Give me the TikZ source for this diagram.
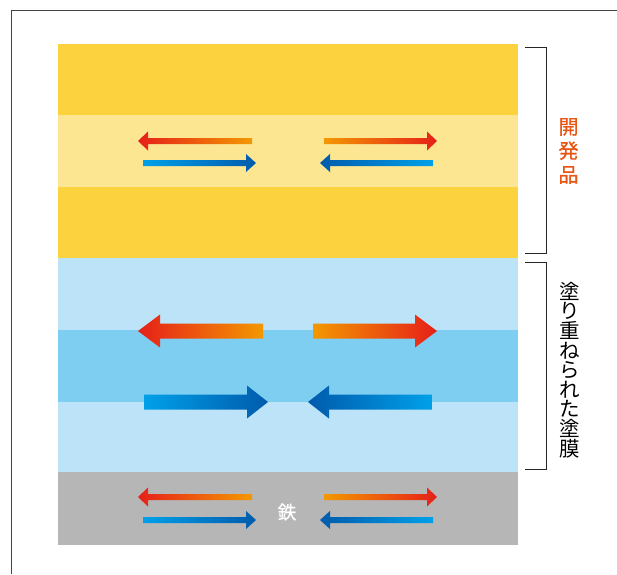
\documentclass[tikz,border=0pt]{standalone}
\usepackage{fontspec}
\newfontfamily\cjk{Noto Sans CJK JP}
\newfontfamily\cjkm{Noto Sans CJK JP}[FakeBold=0.6]
\definecolor{ydark}{HTML}{FDD23F}
\definecolor{ylight}{HTML}{FDE692}
\definecolor{blight}{HTML}{BCE3F7}
\definecolor{bmid}{HTML}{7ECEF2}
\definecolor{steel}{HTML}{B5B6B5}
\definecolor{ared}{HTML}{E61F19}
\definecolor{aorange}{HTML}{F39800}
\definecolor{ablue}{HTML}{005BAC}
\definecolor{acyan}{HTML}{00A0E9}
\definecolor{labelred}{HTML}{E95513}
\definecolor{framegray}{HTML}{444444}
\newcommand\grarrow[8]{%
  \pgfmathsetmacro\arrHB{#2>#1 ? #2-#6 : #2+#6}%
  \ifdim #2pt>#1pt \def\arrL{#7}\def\arrR{#8}\else \def\arrL{#8}\def\arrR{#7}\fi
  \shade[left color=\arrL, right color=\arrR]
    (#1,#3-#4) -- (\arrHB,#3-#4) -- (\arrHB,#3-#5) -- (#2,#3)
    -- (\arrHB,#3+#5) -- (\arrHB,#3+#4) -- (#1,#3+#4) -- cycle;}
\begin{document}
\begin{tikzpicture}[x=1pt,y=-1pt,
  bracket/.style={draw=black!85, line width=1pt},
  vlabel/.style={align=center, inner sep=0pt}]
\useasboundingbox (0,0) rectangle (617,574);
\fill[white] (0,0) rectangle (617,574);
% frame
\draw[framegray, line width=1pt] (11,574) -- (11,10) -- (617,10);
% layers
\fill[ydark]  (58,44)  rectangle (518,115);
\fill[ylight] (58,115) rectangle (518,187);
\fill[ydark]  (58,187) rectangle (518,258);
\fill[blight] (58,258) rectangle (518,330);
\fill[bmid]   (58,330) rectangle (518,402);
\fill[blight] (58,402) rectangle (518,472);
\fill[steel]  (58,472) rectangle (518,545);
% thin arrows (top)
\grarrow{252}{138}{141}{3}{9.5}{10}{aorange}{ared}
\grarrow{324}{437}{141}{3}{9.5}{10}{aorange}{ared}
\grarrow{143}{256}{163}{3}{9}{10}{acyan}{ablue}
\grarrow{433}{320}{163}{3}{9}{10}{acyan}{ablue}
% thick arrows
\grarrow{263}{138}{331}{7.5}{16.5}{22}{aorange}{ared}
\grarrow{313}{437}{331}{7.5}{16.5}{22}{aorange}{ared}
\grarrow{144}{268}{402}{7.5}{16.5}{21}{acyan}{ablue}
\grarrow{432}{308}{402}{7.5}{16.5}{21}{acyan}{ablue}
% thin arrows (steel)
\grarrow{252}{138}{497}{3}{9.5}{10}{aorange}{ared}
\grarrow{324}{437}{497}{3}{9.5}{10}{aorange}{ared}
\grarrow{143}{256}{520}{3}{9}{10}{acyan}{ablue}
\grarrow{433}{320}{520}{3}{9}{10}{acyan}{ablue}
\node[font=\cjkm\fontsize{18.5}{18.5}\selectfont, text=white, inner sep=0pt] (iron) at (287,512) {鉄};
% brackets
\draw[bracket] (525,47) -- (546,47) -- (546,253) -- (525,253);
\draw[bracket] (525,262) -- (546,262) -- (546,469) -- (525,469);
\node[vlabel, font=\cjkm\fontsize{20}{24}\selectfont, text=labelred] (dev) at (568.5,151) {開\\発\\品};
\node[vlabel, font=\cjk\fontsize{20.5}{19.6}\selectfont, text=black] (coat) at (570,370) {塗\\り\\重\\ね\\ら\\れ\\た\\塗\\膜};
\end{tikzpicture}
\end{document}
